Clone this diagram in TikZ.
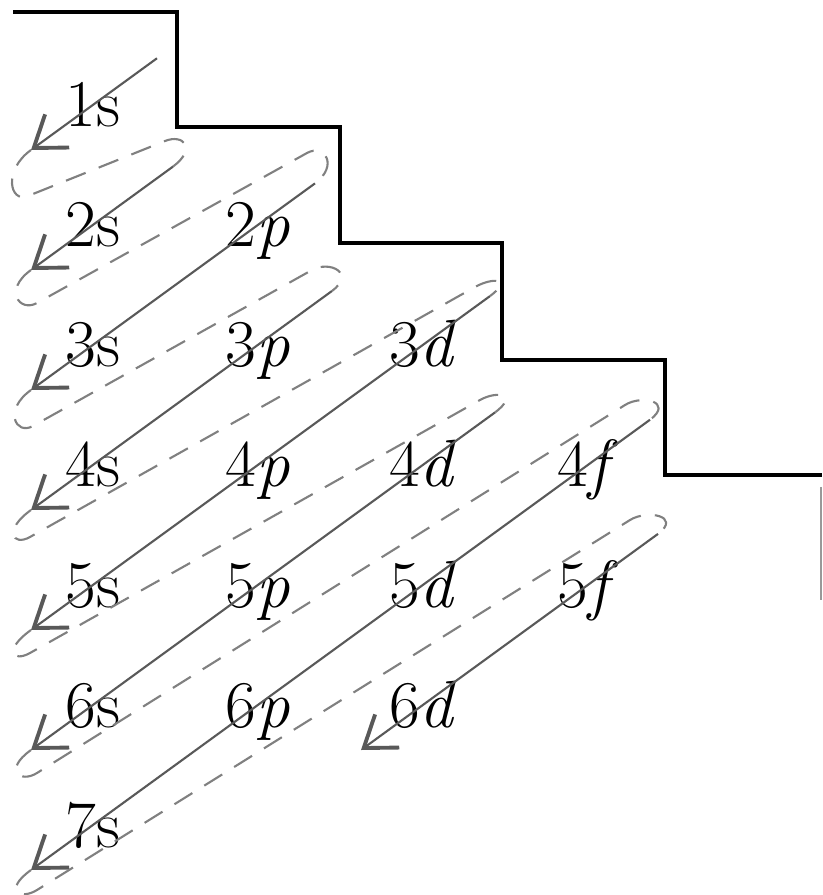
\documentclass[tikz,border=0pt]{standalone}
\usepackage{fontspec}
\usetikzlibrary{arrows.meta,calc}
\tikzset{
  stair/.style    = {line width=0.9pt, line join=miter},
  fillarrow/.style= {-{Straight Barb[length=2.9mm,width=4.1mm,line width=1.1pt]},
                     line width=0.6pt, black!65},
  turn/.style     = {line width=0.6pt, black!50, dash pattern=on 6pt off 4pt},
  orb/.style      = {anchor=base, inner sep=0pt, font=\fontsize{19}{22}\selectfont},
}

\begin{document}
\begin{tikzpicture}[x=0.01cm, y=-0.01cm]
  \useasboundingbox (0,0) rectangle (822,895);

  % ---- stair line --------------------------------------------------------
  \draw[stair] (13,12) -| (177,127) -| (340,243) -| (502,360) -| (665,475) -- (822,475);
  \draw[stair, black!40, line width=0.5pt] (821,487) -- (821,600);

  % ---- orbital labels ----------------------------------------------------
  \foreach \n in {1,...,7}
    \node[orb] (\n s) at (93,{127+120*(\n-1)}) {\n s};
  \foreach \n/\l/\sub in {2/1/p,3/1/p,4/1/p,5/1/p,6/1/p,3/2/d,4/2/d,5/2/d,6/2/d,4/3/f,5/3/f}
    \node[orb] (\n\sub) at ({93+165*\l},{127+120*(\n-1)}) {\n\textit{\sub}};

  % ---- filling order arrows ----------------------------------------------
  \foreach \k/\top/\bot/\a in {1/1s/1s/64, 2/2s/2s/80, 3/2p/3s/57, 4/3p/4s/74,
                               5/3d/5s/67, 6/4d/6s/72, 7/4f/7s/62, 8/5f/6d/70}
    \draw[fillarrow] ($(\top.base)+(\a,{-22-0.73*\a})$) coordinate (s\k)
                  -- ($(\bot.base)+(-62,23)$) coordinate (t\k);

  % ---- dashed turns from one arrow to the next ---------------------------
  \foreach \k/\nk/\lx/\ly/\rx/\ry in {1/2/28/196/165/141, 2/3/37/303/307/153,
                                      3/4/33/426/312/270, 4/5/30/537/475/287,
                                      5/6/30/653/480/400, 6/7/37/773/625/405,
                                      7/8/37/890/630/520}{
    \coordinate (l\k) at (\lx,\ly);
    \coordinate (r\k) at (\rx,\ry);
    \draw[turn] (t\k) .. controls ($(t\k)+(-28,20)$) and ($(l\k)!-0.2cm!(r\k)$) .. (l\k)
                -- (r\k) .. controls ($(r\k)!-0.2cm!(l\k)$) and ($(s\nk)+(24,-18)$) .. (s\nk);
  }
\end{tikzpicture}
\end{document}
